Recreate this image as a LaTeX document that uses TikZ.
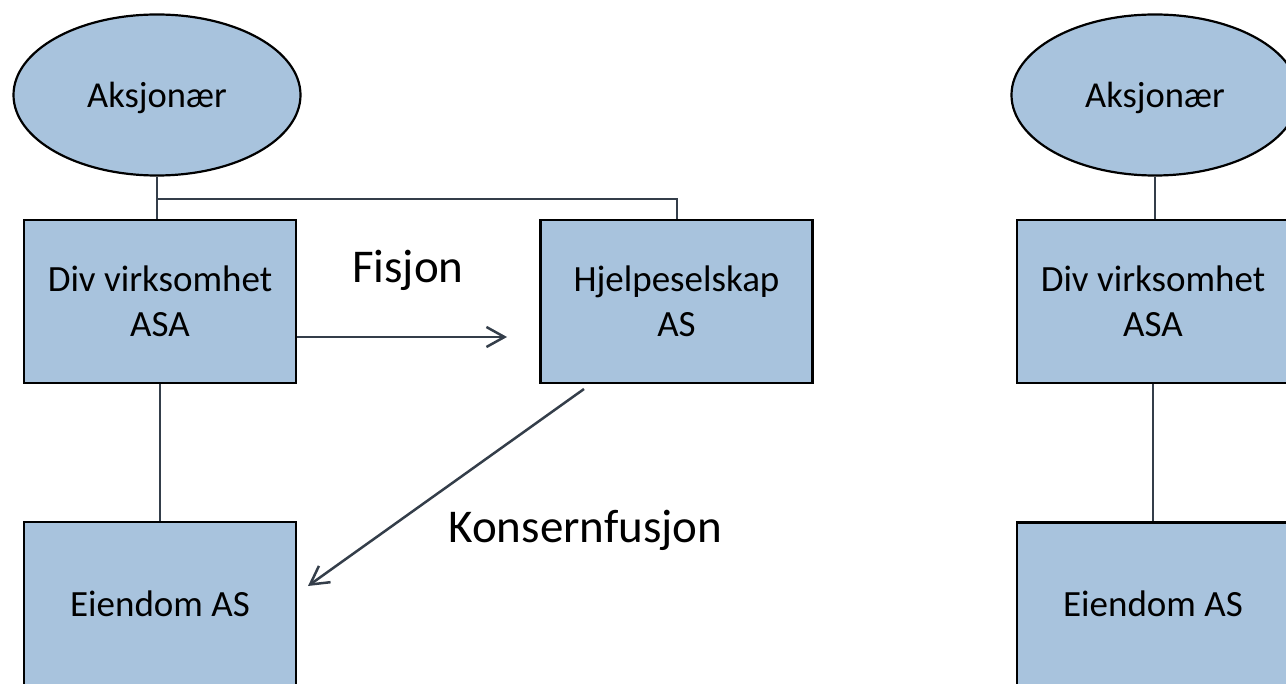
\documentclass[tikz,border=0pt]{standalone}
\usepackage{fontspec}
\setmainfont{Carlito}
\usetikzlibrary{shapes.geometric,arrows.meta}
\definecolor{boxfill}{RGB}{168,195,221}
\definecolor{conn}{RGB}{52,62,74}
\begin{document}
\begin{tikzpicture}[x=1pt,y=-1pt,
 box/.style={draw=black,line width=2.2pt,fill=boxfill,minimum width=272pt,minimum height=163pt,inner sep=0pt,align=center,font=\fontsize{37}{45}\selectfont},
 owner/.style={ellipse,draw=black,line width=2.2pt,fill=boxfill,minimum width=287pt,minimum height=161pt,inner sep=0pt,text depth=0pt,font=\fontsize{36.5}{44}\selectfont},
 link/.style={draw=conn,line width=2pt},
 flow/.style={draw=conn,line width=2.5pt,-{Straight Barb[length=18pt,width=20pt]}},
 lbl/.style={font=\fontsize{47}{56}\selectfont,anchor=base}]
\useasboundingbox (0,0) rectangle (1286,684);
% left group
\node[owner] (sh) at (157,95) {Aksjonær};
\node[box] (div) at (160,301.5) {Div virksomhet\\ASA};
\node[box] (hj) at (676.5,301.5) {Hjelpeselskap\\AS};
\node[box] (eien) at (160,603.5) {Eiendom AS};
% right group
\node[owner] (sh2) at (1155,95) {Aksjonær};
\node[box] (div2) at (1153,301.5) {Div virksomhet\\ASA};
\node[box] (eien2) at (1153,604) {Eiendom AS};
% labels
\node[lbl] (fis) at (408,283) {Fisjon};
\node[lbl] (kon) at (585.5,542) {Konsernfusjon};
% connectors left
\draw[link] (sh.south) -- (sh.south |- div.north);
\coordinate (br) at (sh.south |- 0,199);
\draw[link] (br) -| (hj.north);
\draw[link] (div.south) -- (eien.north);
\coordinate (fe) at (507,337);
\draw[flow] (div.east |- fe) -- (fe);
\coordinate (ks) at (584,389);
\coordinate (ke) at (308,586);
\draw[flow] (ks) -- (ke);
% connectors right
\draw[link] (sh2.south) -- (sh2.south |- div2.north);
\draw[link] (div2.south) -- (eien2.north);
\end{tikzpicture}
\end{document}
